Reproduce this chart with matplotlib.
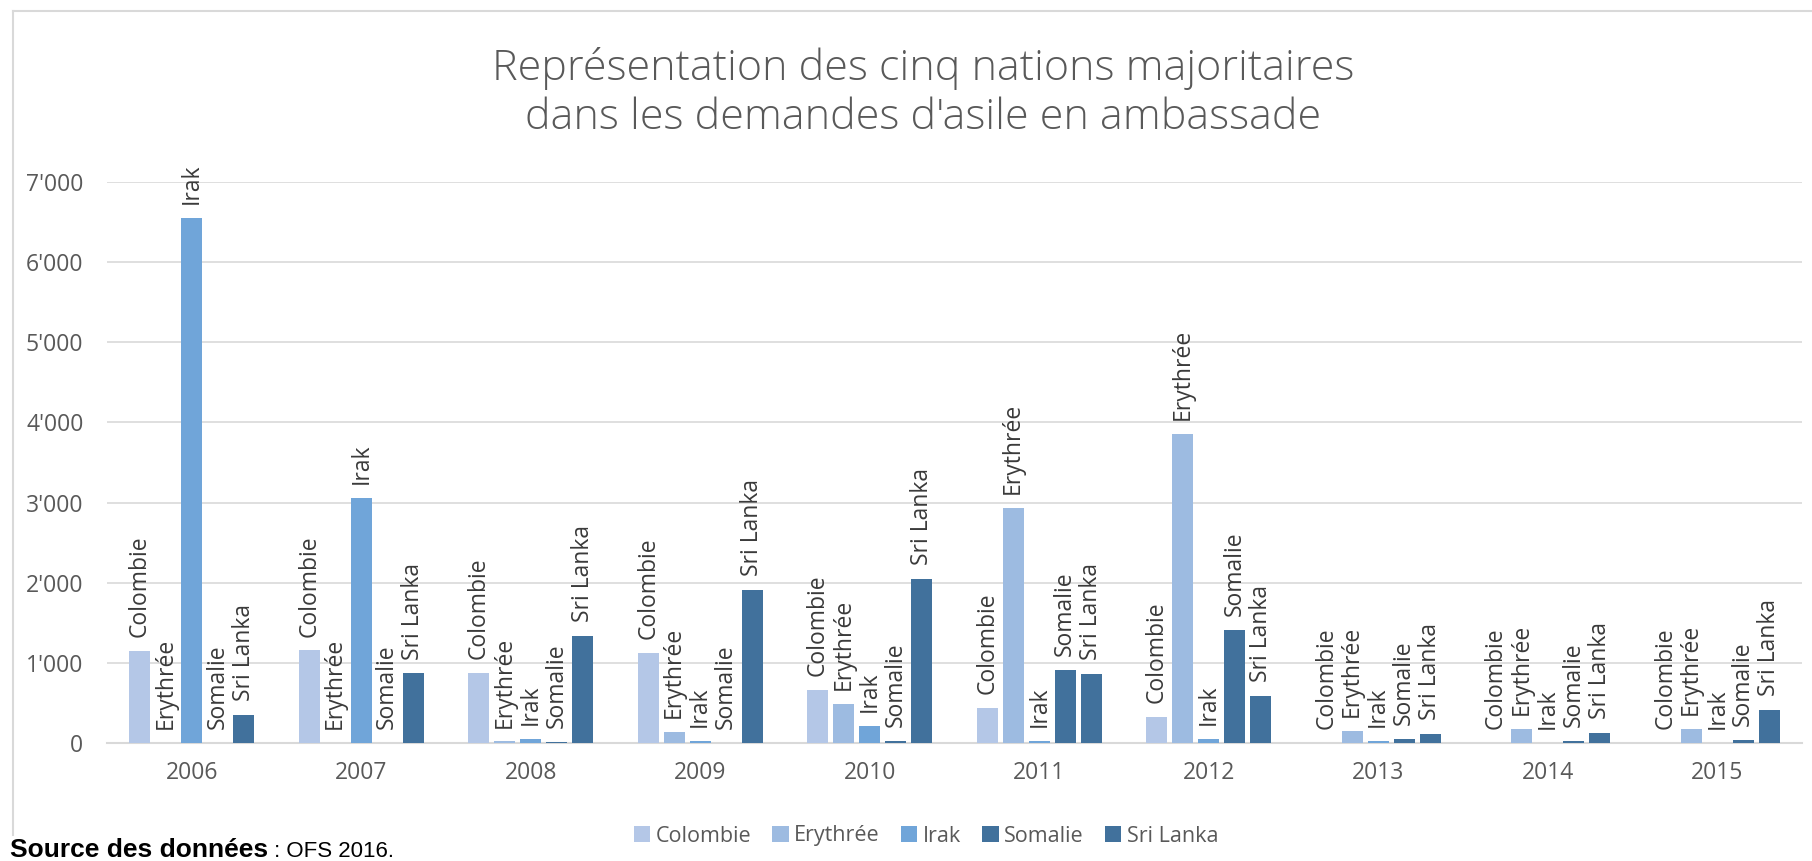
import numpy as np
import matplotlib
import matplotlib.pyplot as plt
from matplotlib.ticker import FuncFormatter
from matplotlib.lines import Line2D
matplotlib.use('Agg')

years = ["2006", "2007", "2008", "2009", "2010", "2011", "2012", "2013", "2014", "2015"]
countries = ["Colombie", "Erythrée", "Irak", "Somalie", "Sri Lanka"]

colombie = [1145, 1155, 877, 1125, 666, 439, 321, 0, 0, 0]
erythree = [0, 0, 20, 138, 485, 2933, 3856, 146, 171, 175]
irak = [6547, 3057, 50, 25, 217, 30, 50, 29, 0, 0]
somalie = [5, 5, 10, 5, 30, 907, 1415, 46, 25, 42]
sri_lanka = [345, 868, 1331, 1912, 2051, 858, 583, 117, 125, 408]

series = [colombie, erythree, irak, somalie, sri_lanka]
colors = ["#B4C7E7", "#9DBBE1", "#70A5D9", "#41719C", "#41719C"]

plt.rcParams['font.family'] = ['Open Sans', 'DejaVu Sans']

fig = plt.figure(figsize=(18.12, 8.61), dpi=100)
ax = fig.add_axes([107 / 1812, 1 - 743 / 861, (1802 - 107) / 1812, (743 - 182) / 861])

x = np.arange(len(years))
step = 0.1534
width = 0.121
for i, (name, vals) in enumerate(zip(countries, series)):
    pos = x + (i - 2) * step
    ax.bar(pos, vals, width, color=colors[i], label=name, zorder=3)
    for px, v in zip(pos, vals):
        ax.annotate(name, (px, v), xytext=(0, 10), textcoords='offset points',
                    rotation=90, ha='center', va='bottom', fontsize=16.5, color='#3A3A3A')

ax.set_xlim(-0.5, len(years) - 0.5)
ax.set_ylim(0, 7000)
ax.set_yticks(range(0, 7001, 1000))
ax.yaxis.set_major_formatter(FuncFormatter(lambda v, p: "{:,}".format(int(v)).replace(",", "'")))
ax.set_xticks(x, years)
ax.grid(axis='y', color='#D9D9D9', linewidth=1.2, zorder=0)
ax.tick_params(axis='both', length=0, labelsize=16.5, labelcolor='#595959')
ax.tick_params(axis='y', pad=17)
ax.tick_params(axis='x', pad=13)
for s in ['top', 'right', 'left']:
    ax.spines[s].set_visible(False)
ax.spines['bottom'].set_color('#D9D9D9')
ax.spines['bottom'].set_linewidth(1.5)

fig.text(923 / 1812, 1 - 69 / 861, "Représentation des cinq nations majoritaires",
         ha='center', va='center', fontsize=31, color='#595959', fontweight='light')
fig.text(923 / 1812, 1 - 118 / 861, "dans les demandes d'asile en ambassade",
         ha='center', va='center', fontsize=31, color='#595959', fontweight='light')

leg = fig.legend(loc='center', bbox_to_anchor=(926 / 1812, 1 - 836 / 861), ncol=5, frameon=False,
                 fontsize=15.5, handlelength=0.75, handleheight=0.75, handletextpad=0.25, columnspacing=1.0)
for t in leg.get_texts():
    t.set_color('#595959')

# chart frame (top and left edges visible)
fig.add_artist(Line2D([13 / 1812, 13 / 1812], [1 - 835 / 861, 1 - 11 / 861], color='#D9D9D9', linewidth=1.5))
fig.add_artist(Line2D([13 / 1812, 1], [1 - 11 / 861, 1 - 11 / 861], color='#D9D9D9', linewidth=1.5))

src = fig.text(10 / 1812, 1 - 857 / 861, "Source des données", ha='left', va='baseline',
               fontsize=19, fontweight='bold', color='black', family='Liberation Sans')
fig.canvas.draw()
bb = src.get_window_extent()
fig.text(bb.x1 / 1812, 1 - 857 / 861, " : OFS 2016.", ha='left', va='baseline',
         fontsize=16, color='black', family='Liberation Sans')

fig.savefig('out.png', dpi=100)
